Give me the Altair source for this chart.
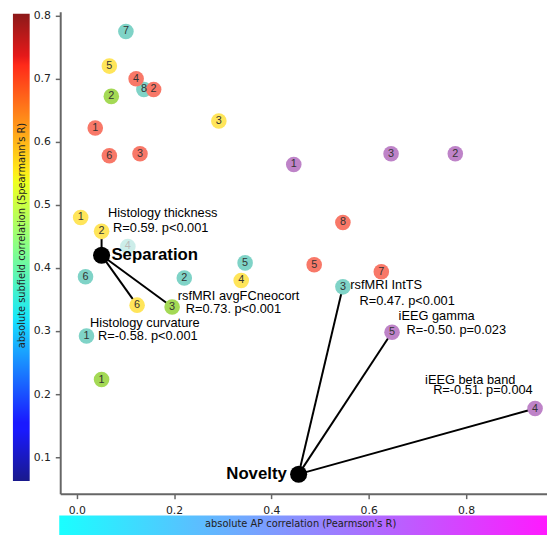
import altair as alt
import pandas as pd

# ---------------- data ----------------
pt_group = ["teal", "teal", "teal", "teal", "teal", "teal", "teal", "teal",
            "yellow", "yellow", "yellow", "yellow", "yellow", "yellow",
            "green", "green", "green",
            "red", "red", "red", "red", "red", "red", "red", "red",
            "purple", "purple", "purple", "purple", "purple"]
pt_num = ["7", "8", "4", "6", "2", "5", "1", "3",
          "5", "3", "1", "2", "4", "6",
          "2", "3", "1",
          "4", "2", "1", "6", "3", "8", "5", "7",
          "1", "3", "2", "5", "4"]
pt_x = [0.101, 0.138, 0.105, 0.018, 0.221, 0.346, 0.020, 0.547,
        0.067, 0.292, 0.008, 0.051, 0.338, 0.124,
        0.071, 0.196, 0.051,
        0.122, 0.158, 0.038, 0.067, 0.130, 0.547, 0.488, 0.626,
        0.446, 0.646, 0.778, 0.648, 0.942]
pt_y = [0.775, 0.683, 0.434, 0.386, 0.384, 0.408, 0.292, 0.370,
        0.720, 0.633, 0.480, 0.458, 0.380, 0.341,
        0.672, 0.338, 0.223,
        0.700, 0.683, 0.622, 0.578, 0.581, 0.472, 0.405, 0.394,
        0.564, 0.581, 0.581, 0.298, 0.177]

hub_name = ["Separation", "Novelty"]
hub_x = [0.051, 0.456]
hub_y = [0.420, 0.073]

edge_x = [0.051, 0.051, 0.051, 0.456, 0.456, 0.456]
edge_y = [0.420, 0.420, 0.420, 0.073, 0.073, 0.073]
edge_x2 = [0.051, 0.124, 0.196, 0.547, 0.648, 0.942]
edge_y2 = [0.458, 0.341, 0.338, 0.370, 0.298, 0.177]

ann_text = ["Histology thickness", "R=0.59. p<0.001",
            "rsfMRI avgFCneocort", "R=0.73. p<0.001",
            "Histology curvature", "R=-0.58. p<0.001",
            "rsfMRI IntTS", "R=0.47. p<0.001",
            "iEEG gamma", "R=-0.50. p=0.023",
            "iEEG beta band", "R=-0.51. p=0.004"]
ann_x = [0.1766, 0.1726, 0.3325, 0.322, 0.140, 0.146,
         0.636, 0.679, 0.7396, 0.780, 0.8087, 0.8348]
ann_y = [0.4873, 0.4638, 0.356, 0.3342, 0.3123, 0.292,
         0.3732, 0.3482, 0.3232, 0.3013, 0.2217, 0.206]

x_ticks = [0.0, 0.2, 0.4, 0.6, 0.8]
y_ticks = [0.1, 0.2, 0.3, 0.4, 0.5, 0.6, 0.7, 0.8]

group_names = ["teal", "yellow", "green", "red", "purple"]
group_colors = ["#7FD3C7", "#FFE55A", "#A4D955", "#F87868", "#BE83C8"]

# ---------------- tables ----------------
points = pd.DataFrame({"group": pt_group, "num": pt_num, "x": pt_x, "y": pt_y})
hubs = pd.DataFrame({"name": hub_name, "x": hub_x, "y": hub_y})
edges = pd.DataFrame({"x": edge_x, "y": edge_y, "x2": edge_x2, "y2": edge_y2})
ann = pd.DataFrame({"text": ann_text, "x": ann_x, "y": ann_y})
one = pd.DataFrame({"a": [0]})

W, H = 494, 489
xscale = alt.Scale(domain=[-0.034, 0.9665], nice=False, zero=False)
yscale = alt.Scale(domain=[0.042, 0.806], nice=False, zero=False)
axis_common = dict(title=None, grid=False, domainColor="#666", domainWidth=2,
                   tickColor="#666", tickWidth=1.5, tickSize=5,
                   labelFont="DejaVu Sans", labelFontSize=11, labelColor="#222",
                   format=".1f")
X = alt.X("x:Q", scale=xscale,
          axis=alt.Axis(values=x_ticks, labelFlush=False, labelPadding=6, **axis_common))
Y = alt.Y("y:Q", scale=yscale,
          axis=alt.Axis(values=y_ticks, labelPadding=5, **axis_common))

jet = alt.LinearGradient(
    gradient="linear", x1=0, x2=0, y1=1, y2=0,
    stops=[alt.GradientStop(offset=0.0, color="#19198c"),
           alt.GradientStop(offset=0.11, color="#1919ff"),
           alt.GradientStop(offset=0.125, color="#1919ff"),
           alt.GradientStop(offset=0.34, color="#19dcff"),
           alt.GradientStop(offset=0.35, color="#19e8f8"),
           alt.GradientStop(offset=0.5, color="#88ff88"),
           alt.GradientStop(offset=0.64, color="#efff1f"),
           alt.GradientStop(offset=0.66, color="#ffed19"),
           alt.GradientStop(offset=0.89, color="#ff2a19"),
           alt.GradientStop(offset=0.91, color="#e51919"),
           alt.GradientStop(offset=1.0, color="#8c1919")])
cool = alt.LinearGradient(
    gradient="linear", x1=0, x2=1, y1=0, y2=0,
    stops=[alt.GradientStop(offset=0.0, color="#1affff"),
           alt.GradientStop(offset=1.0, color="#ff1aff")])

cbar_left = alt.Chart(one).mark_rect(color=jet).encode(
    x=alt.value(-48), x2=alt.value(-31), y=alt.value(2), y2=alt.value(476))
cbar_left_title = alt.Chart(one).mark_text(
    text="absolute subfield correlation (Spearmann's R)", angle=270,
    font="DejaVu Sans", fontSize=10, color="#222", align="center", baseline="middle"
).encode(x=alt.value(-39), y=alt.value(227))
cbar_bottom = alt.Chart(one).mark_rect(color=cool).encode(
    x=alt.value(-1), x2=alt.value(494), y=alt.value(511), y2=alt.value(531))
cbar_bottom_title = alt.Chart(one).mark_text(
    text="absolute AP correlation (Pearmson's R)",
    font="DejaVu Sans", fontSize=10, color="#222", align="center", baseline="middle"
).encode(x=alt.value(244), y=alt.value(520))

edge_layer = alt.Chart(edges).mark_rule(color="black", strokeWidth=2).encode(
    x=X, y=Y, x2="x2:Q", y2="y2:Q")

faded = (alt.datum.group == "teal") & (alt.datum.num == "4")
dots = alt.Chart(points).mark_circle(size=250, opacity=1).encode(
    x=X, y=Y,
    color=alt.Color("group:N", scale=alt.Scale(domain=group_names, range=group_colors), legend=None),
    opacity=alt.condition(faded, alt.value(0.4), alt.value(1.0)))
nums = alt.Chart(points).mark_text(font="Liberation Sans", fontSize=11, baseline="middle",
                                   align="center").encode(
    x=X, y=Y, text="num:N",
    color=alt.condition(faded, alt.value("#bbbbbb"), alt.value("#333333")))

hub_dots = alt.Chart(hubs).mark_circle(size=300, opacity=1, color="black").encode(x=X, y=Y)

sep_label = alt.Chart(hubs).transform_filter(alt.datum.name == "Separation").mark_text(
    font="Liberation Sans", fontSize=17, fontWeight="bold", align="left", baseline="middle",
    dx=10, color="black").encode(x=X, y=Y, text="name:N")
nov_label = alt.Chart(hubs).transform_filter(alt.datum.name == "Novelty").mark_text(
    font="Liberation Sans", fontSize=17, fontWeight="bold", align="right", baseline="middle",
    dx=-12, color="black").encode(x=X, y=Y, text="name:N")

ann_layer = alt.Chart(ann).mark_text(font="Liberation Sans", fontSize=13, align="center",
                                     baseline="middle", color="black").encode(
    x=X, y=Y, text="text:N")

chart = alt.layer(
    cbar_left, cbar_left_title, cbar_bottom, cbar_bottom_title,
    edge_layer, dots, nums, hub_dots, sep_label, nov_label, ann_layer
).properties(
    width=W, height=H,
    autosize=alt.AutoSizeParams(type="none"),
    padding={"left": 53, "top": 0, "right": 0, "bottom": 40},
).configure_view(stroke=None)

chart.save("out.html", embed_options={"renderer": "svg", "actions": False})
